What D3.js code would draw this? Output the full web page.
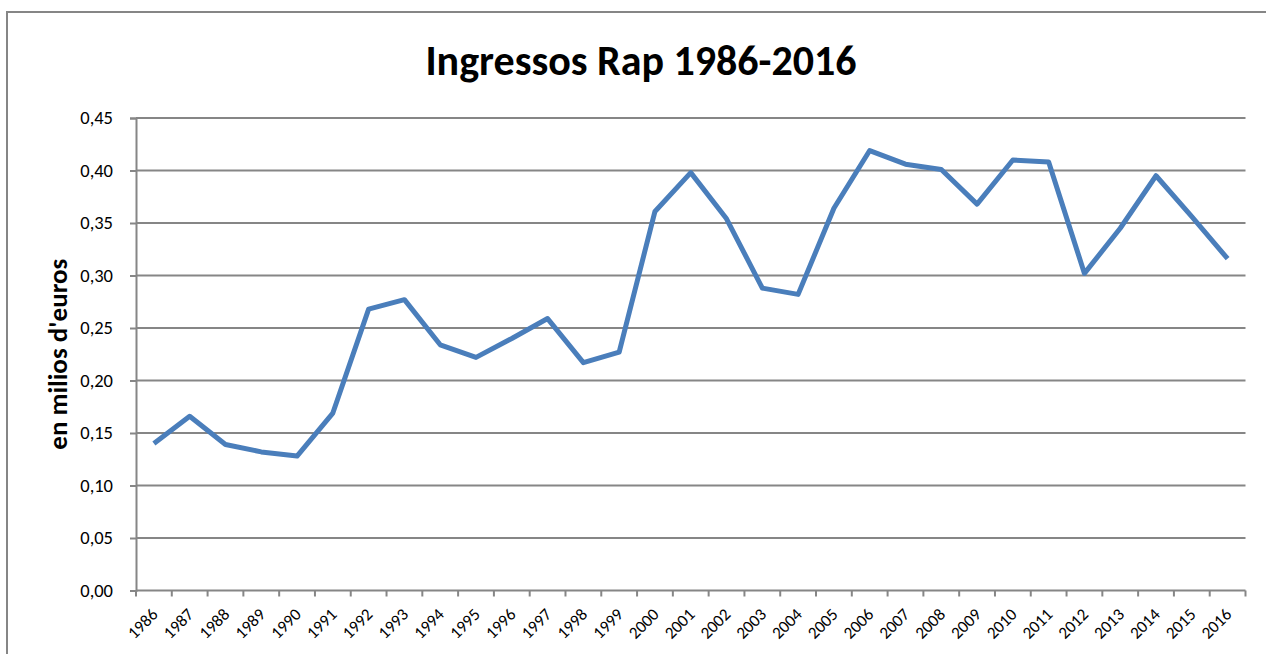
<!DOCTYPE html>
<html>
<head>
<meta charset="utf-8">
<script src="https://cdn.jsdelivr.net/npm/d3@7"></script>
<style>
  body { margin: 0; background: #fff; }
  svg { display: block; }
  text { font-family: Carlito, Lato, "Open Sans", sans-serif; fill: #000; }
</style>
</head>
<body>
<script>
// anys i valors (milions d'euros)
const anys = ["1986","1987","1988","1989","1990","1991","1992","1993","1994","1995",
  "1996","1997","1998","1999","2000","2001","2002","2003","2004","2005",
  "2006","2007","2008","2009","2010","2011","2012","2013","2014","2015","2016"];
const ingressos = [0.140, 0.166, 0.139, 0.132, 0.128, 0.169, 0.268, 0.277, 0.234, 0.222,
  0.240, 0.259, 0.217, 0.227, 0.361, 0.398, 0.354, 0.288, 0.282, 0.364,
  0.419, 0.406, 0.401, 0.368, 0.410, 0.408, 0.302, 0.345, 0.395, 0.356, 0.316];
const ticksY = [0, 0.05, 0.10, 0.15, 0.20, 0.25, 0.30, 0.35, 0.40, 0.45];

const titol = "Ingressos Rap 1986-2016";
const titolY = "en milios d'euros";

const W = 1266, H = 654;
const marge = { left: 136, right: 1245.5, top: 118, bottom: 590.5 };
const gris = "#868686";

let svg = d3.select("body").append("svg")
  .attr("width", W)
  .attr("height", H);

// cadre exterior
svg.append("rect")
  .attr("x", 7).attr("y", 12)
  .attr("width", W + 20).attr("height", H + 20)
  .attr("fill", "none")
  .attr("stroke", gris)
  .attr("stroke-width", 2);

let x = d3.scaleBand().domain(anys).range([marge.left, marge.right]).padding(0);
let y = d3.scaleLinear().domain([0, 0.45]).range([marge.bottom, marge.top]);

// lignes de grille + etiquetes Y
let gY = svg.append("g")
  .attr("transform", "translate(" + marge.left + ",0)")
  .call(d3.axisLeft(y)
    .tickValues(ticksY)
    .tickSize(6)
    .tickPadding(17)
    .tickFormat(d => d3.format(".2f")(d).replace(".", ",")));
gY.select(".domain").attr("stroke", gris).attr("stroke-width", 2);
gY.selectAll(".tick line").attr("stroke", gris).attr("stroke-width", 2);
gY.selectAll(".tick text").style("font-size", "18.5px");

svg.append("g").selectAll("line")
  .data(ticksY.filter(d => d > 0))
  .enter().append("line")
  .attr("x1", marge.left).attr("x2", marge.right)
  .attr("y1", d => y(d)).attr("y2", d => y(d))
  .attr("stroke", gris).attr("stroke-width", 2);

// axe X
svg.append("line")
  .attr("x1", marge.left).attr("x2", marge.right)
  .attr("y1", y(0)).attr("y2", y(0))
  .attr("stroke", gris).attr("stroke-width", 2);

let bords = anys.map(a => x(a)).concat([x(anys[anys.length - 1]) + x.bandwidth()]);
svg.append("g").selectAll("line")
  .data(bords)
  .enter().append("line")
  .attr("x1", d => d).attr("x2", d => d)
  .attr("y1", y(0)).attr("y2", y(0) + 6)
  .attr("stroke", gris).attr("stroke-width", 2);

svg.append("g").selectAll("text")
  .data(anys)
  .enter().append("text")
  .text(d => d)
  .attr("text-anchor", "end")
  .style("font-size", "17px")
  .attr("transform", d => "translate(" + (x(d) + x.bandwidth() / 2 + 5) + "," + (y(0) + 25) + ") rotate(-45)");

// la linia
let linia = d3.line()
  .x((d, i) => x(anys[i]) + x.bandwidth() / 2)
  .y(d => y(d));

svg.append("path")
  .datum(ingressos)
  .attr("d", linia)
  .attr("fill", "none")
  .attr("stroke", "#4a7ebb")
  .attr("stroke-width", 5)
  .attr("stroke-linejoin", "round");

// titols
svg.append("text")
  .text(titol)
  .attr("x", 641).attr("y", 75)
  .attr("text-anchor", "middle")
  .style("font-size", "42px")
  .style("font-weight", "bold");

svg.append("text")
  .text(titolY)
  .attr("transform", "translate(67," + ((marge.top + marge.bottom) / 2) + ") rotate(-90)")
  .attr("text-anchor", "middle")
  .style("font-size", "27px")
  .style("font-weight", "bold");
</script>
</body>
</html>
